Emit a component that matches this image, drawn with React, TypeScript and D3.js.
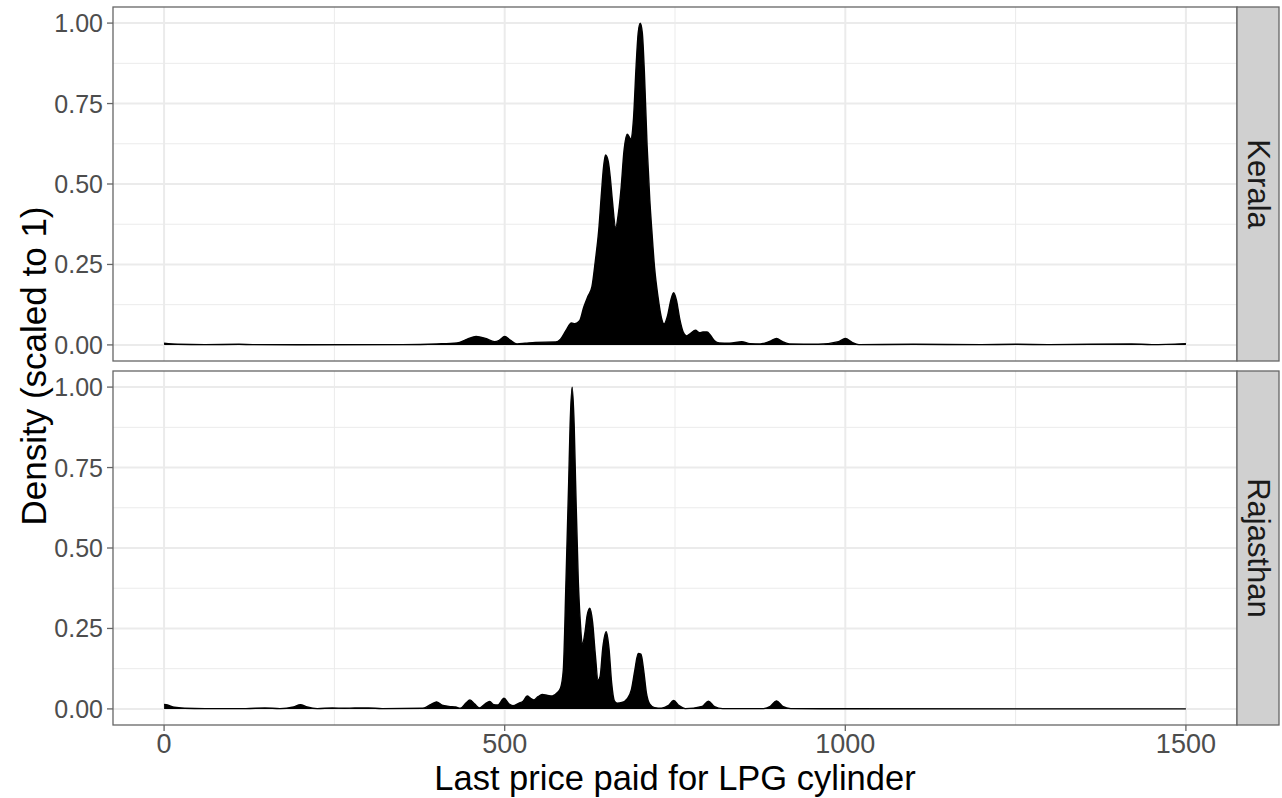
import React from "react";
import * as d3 from "d3";

const panels = ["Kerala", "Rajasthan"];
const xTicks = [0, 500, 1000, 1500];
const xMinor = [250, 750, 1250];
const yTicks = [0, 0.25, 0.5, 0.75, 1];
const yMinor = [0.125, 0.375, 0.625, 0.875];

const keralaPrice = [0, 20, 60, 110, 130, 200, 350, 400, 430, 445, 458, 472, 485, 492, 500, 508, 518, 530, 545, 575, 582, 590, 598, 603, 610, 616, 622, 628, 633, 638, 642, 645, 648, 652, 655, 658, 663, 667, 671, 675, 680, 685, 689, 693, 696, 699, 702, 705, 709, 713, 716, 720, 725, 730, 734, 739, 744, 748, 752, 757, 762, 767, 773, 780, 786, 791, 797, 802, 808, 815, 830, 848, 860, 875, 890, 899, 908, 918, 960, 990, 1000, 1010, 1020, 1100, 1200, 1250, 1300, 1420, 1450, 1500];
const keralaDensity = [0.005, 0.002, 0.001, 0.002, 0.001, 0.0005, 0.001, 0.003, 0.006, 0.018, 0.026, 0.02, 0.01, 0.014, 0.026, 0.015, 0.003, 0.005, 0.008, 0.009, 0.018, 0.045, 0.068, 0.066, 0.075, 0.117, 0.15, 0.18, 0.26, 0.355, 0.47, 0.55, 0.59, 0.57, 0.52, 0.45, 0.365, 0.41, 0.49, 0.6, 0.655, 0.64, 0.7, 0.87, 0.97, 1.0, 0.97, 0.85, 0.62, 0.45, 0.355, 0.24, 0.15, 0.085, 0.065, 0.09, 0.14, 0.162, 0.14, 0.08, 0.04, 0.028, 0.036, 0.046, 0.038, 0.04, 0.04, 0.03, 0.013, 0.006, 0.005, 0.01, 0.004, 0.003, 0.012, 0.02, 0.01, 0.003, 0.002, 0.01, 0.02, 0.008, 0.001, 0.002, 0.001, 0.002, 0.001, 0.003, 0.001, 0.004];

const rajasthanPrice = [0, 5, 15, 30, 60, 120, 148, 170, 190, 200, 210, 225, 247, 265, 280, 300, 320, 380, 392, 400, 408, 418, 428, 435, 443, 449, 456, 463, 471, 478, 484, 490, 499, 506, 512, 521, 527, 533, 538, 543, 549, 555, 563, 570, 577, 582, 586, 590, 594, 596, 599, 602, 604, 608, 611, 614, 618, 621, 625, 629, 633, 637, 640, 644, 649, 653, 657, 661, 665, 672, 680, 686, 691, 696, 700, 704, 708, 713, 720, 730, 740, 748, 756, 765, 790, 799, 808, 820, 880, 890, 899, 908, 920, 1000, 1500];
const rajasthanDensity = [0.014, 0.012, 0.005, 0.002, 0.001, 0.001, 0.003, 0.001, 0.006, 0.013, 0.006, 0.001, 0.003, 0.002, 0.003, 0.003, 0.001, 0.002, 0.014, 0.022, 0.012, 0.008, 0.006, 0.002, 0.018, 0.028, 0.015, 0.003, 0.015, 0.023, 0.013, 0.012, 0.033, 0.016, 0.01, 0.018, 0.024, 0.04, 0.033, 0.028, 0.038, 0.045, 0.042, 0.04, 0.05, 0.065, 0.12, 0.4, 0.71, 0.88, 1.0, 0.88, 0.71, 0.4, 0.27, 0.2, 0.24, 0.29, 0.313, 0.27, 0.17, 0.09, 0.1, 0.19, 0.24, 0.19, 0.08, 0.025, 0.018, 0.02, 0.032, 0.06, 0.12, 0.172, 0.17, 0.12, 0.05, 0.015, 0.004, 0.002, 0.01, 0.026, 0.01, 0.001, 0.008, 0.024, 0.007, 0.001, 0.001, 0.008, 0.025, 0.008, 0.001, 0.0005, 0];

const series = [
  { price: keralaPrice, density: keralaDensity },
  { price: rajasthanPrice, density: rajasthanDensity },
];

const W = 1282;
const H = 798;
const panelLeft = 113;
const panelRight = 1237;
const stripRight = 1279;
const panelTops = [7, 371];
const panelH = 354;

const FONT = "'Liberation Sans', Arial, Helvetica, sans-serif";

export default function App() {
  const x = d3.scaleLinear().domain([-75, 1575]).range([panelLeft, panelRight]);

  return (
    <svg width={W} height={H} style={{ position: "absolute", left: 0, top: 0, background: "#fff" }} fontFamily={FONT}>
      <rect x={0} y={0} width={W} height={H} fill="#fff" />
      {panels.map((name, i) => {
        const top = panelTops[i];
        const y = d3.scaleLinear().domain([-0.05, 1.05]).range([top + panelH, top]);
        const pts = series[i].price.map((p, k) => [p, series[i].density[k]] as [number, number]);
        const area = d3
          .area<[number, number]>()
          .x((d) => x(d[0]))
          .y0(y(0))
          .y1((d) => y(d[1]))
          .curve(d3.curveMonotoneX);
        const line = d3
          .line<[number, number]>()
          .x((d) => x(d[0]))
          .y((d) => y(d[1]))
          .curve(d3.curveMonotoneX);
        return (
          <g key={name}>
            <rect x={panelLeft} y={top} width={panelRight - panelLeft} height={panelH} fill="#fff" />
            {xMinor.map((t) => (
              <line key={"xm" + t} x1={x(t)} x2={x(t)} y1={top} y2={top + panelH} stroke="#ebebeb" strokeWidth={1} />
            ))}
            {yMinor.map((t) => (
              <line key={"ym" + t} x1={panelLeft} x2={panelRight} y1={y(t)} y2={y(t)} stroke="#ebebeb" strokeWidth={1} />
            ))}
            {xTicks.map((t) => (
              <line key={"xM" + t} x1={x(t)} x2={x(t)} y1={top} y2={top + panelH} stroke="#ebebeb" strokeWidth={2} />
            ))}
            {yTicks.map((t) => (
              <line key={"yM" + t} x1={panelLeft} x2={panelRight} y1={y(t)} y2={y(t)} stroke="#ebebeb" strokeWidth={2} />
            ))}
            <path d={area(pts) || ""} fill="#000" />
            <path d={line(pts) || ""} fill="none" stroke="#000" strokeWidth={1.4} />
            <rect x={panelLeft} y={top} width={panelRight - panelLeft} height={panelH} fill="none" stroke="#666" strokeWidth={1.3} />
            <rect x={panelRight} y={top} width={stripRight - panelRight} height={panelH} fill="#d0d0d0" stroke="#666" strokeWidth={1.3} />
            <text
              transform={`translate(${(panelRight + stripRight) / 2},${top + panelH / 2}) rotate(90)`}
              textAnchor="middle"
              dominantBaseline="central"
              fontSize={31}
              fill="#1a1a1a"
            >
              {name}
            </text>
            {yTicks.map((t) => (
              <g key={"yt" + t}>
                <line x1={panelLeft - 6} x2={panelLeft} y1={y(t)} y2={y(t)} stroke="#666" strokeWidth={1.3} />
                <text x={panelLeft - 10} y={y(t)} textAnchor="end" dominantBaseline="central" fontSize={25} fill="#4d4d4d">
                  {d3.format(".2f")(t)}
                </text>
              </g>
            ))}
          </g>
        );
      })}
      {xTicks.map((t) => (
        <g key={"xt" + t}>
          <line x1={x(t)} x2={x(t)} y1={panelTops[1] + panelH} y2={panelTops[1] + panelH + 6} stroke="#666" strokeWidth={1.3} />
          <text x={x(t)} y={panelTops[1] + panelH + 28} textAnchor="middle" fontSize={27} fill="#4d4d4d">
            {t}
          </text>
        </g>
      ))}
      <text x={(panelLeft + panelRight) / 2} y={790} textAnchor="middle" fontSize={34.5} fill="#000">
        Last price paid for LPG cylinder
      </text>
      <text
        transform={`translate(${33},${(panelTops[0] + panelTops[1] + panelH) / 2}) rotate(-90)`}
        textAnchor="middle"
        dominantBaseline="central"
        fontSize={35}
        fill="#000"
      >
        Density (scaled to 1)
      </text>
    </svg>
  );
}
